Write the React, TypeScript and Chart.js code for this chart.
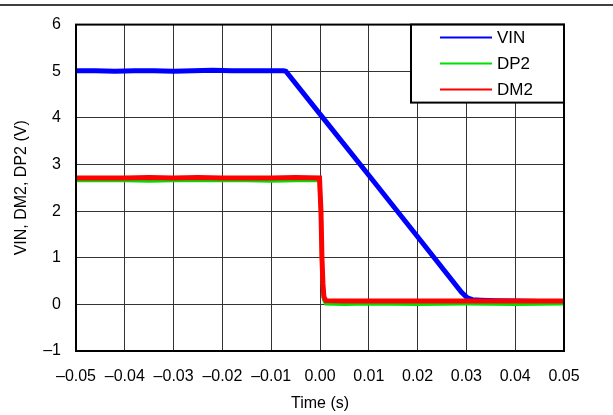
import { useEffect, useRef } from "react";
import { Chart, registerables } from "chart.js";

Chart.register(...registerables);

// ---- Data ----
const seriesLabels = ["VIN", "DP2", "DM2"];
const seriesColors = ["#0000ff", "#00e000", "#ff0000"];

const vinTime = [
  -0.05, -0.046, -0.042, -0.038, -0.034, -0.03, -0.026, -0.022, -0.018, -0.014, -0.01, -0.0075,
  -0.007, 0.0, 0.01, 0.02, 0.029, 0.0302, 0.0312, 0.033, 0.036, 0.04, 0.045, 0.05,
];
const vinValues = [
  5.01, 5.01, 5.0, 5.01, 5.01, 5.0, 5.01, 5.02, 5.01, 5.01, 5.01, 5.01,
  5.0, 4.08, 2.77, 1.45, 0.26, 0.14, 0.1, 0.09, 0.08, 0.07, 0.06, 0.06,
];

const dp2Time = [
  -0.05, -0.045, -0.04, -0.035, -0.03, -0.025, -0.02, -0.015, -0.01, -0.005, -0.0001,
  0.0002, 0.0004, 0.0006, 0.0008, 0.0012, 0.005, 0.01, 0.02, 0.03, 0.04, 0.05,
];
const dp2Values = [
  2.66, 2.66, 2.66, 2.65, 2.66, 2.66, 2.66, 2.66, 2.65, 2.66, 2.66,
  1.9, 0.9, 0.35, 0.1, 0.02, 0.01, 0.02, 0.01, 0.02, 0.01, 0.02,
];

const dm2Time = [
  -0.05, -0.045, -0.04, -0.035, -0.03, -0.025, -0.02, -0.015, -0.01, -0.005, -0.0001,
  0.0002, 0.0004, 0.0006, 0.0008, 0.0012, 0.005, 0.01, 0.02, 0.03, 0.04, 0.05,
];
const dm2Values = [
  2.71, 2.71, 2.71, 2.72, 2.71, 2.72, 2.71, 2.71, 2.71, 2.72, 2.71,
  2.0, 1.0, 0.45, 0.16, 0.08, 0.07, 0.07, 0.07, 0.07, 0.07, 0.07,
];

const xMin = -0.05;
const xMax = 0.05;
const xStep = 0.01;
const yMin = -1;
const yMax = 6;
const yStep = 1;

const FONT = "'Liberation Sans', Arial, sans-serif";

const toPoints = (t: number[], v: number[]) => t.map((x, i) => ({ x, y: v[i] }));

const fmtMinus = (s: string) => s.replace("-", "\u2013");

const framePlugin = {
  id: "frameAndLegend",
  beforeDraw(chart: any) {
    const ctx = chart.ctx;
    ctx.save();
    ctx.strokeStyle = "#000";
    ctx.lineWidth = 1.5;
    ctx.beginPath();
    ctx.moveTo(0, 5);
    ctx.lineTo(chart.width, 5);
    ctx.stroke();
    ctx.restore();
  },
  afterDatasetsDraw(chart: any) {
    const ctx = chart.ctx;
    const a = chart.chartArea;
    ctx.save();
    // plot border
    ctx.strokeStyle = "#000";
    ctx.lineWidth = 2;
    ctx.strokeRect(a.left, a.top, a.right - a.left, a.bottom - a.top);
    // legend box
    const w = 153;
    const h = 78;
    const lx = a.right - w;
    const ly = a.top;
    ctx.fillStyle = "#fff";
    ctx.fillRect(lx, ly, w, h);
    ctx.strokeRect(lx, ly, w, h);
    ctx.font = `17px ${FONT}`;
    ctx.textBaseline = "middle";
    ctx.textAlign = "left";
    chart.data.datasets.forEach((ds: any, i: number) => {
      const y = ly + 13 + i * 26;
      ctx.strokeStyle = ds.borderColor;
      ctx.lineWidth = 2;
      ctx.beginPath();
      ctx.moveTo(lx + 29, y);
      ctx.lineTo(lx + 81, y);
      ctx.stroke();
      ctx.fillStyle = "#000";
      ctx.fillText(ds.label, lx + 86, y + 1);
    });
    ctx.restore();
  },
};

export default function App() {
  const ref = useRef<HTMLCanvasElement | null>(null);

  useEffect(() => {
    if (!ref.current) return;
    const chart = new Chart(ref.current, {
      type: "line",
      data: {
        datasets: [
          {
            label: seriesLabels[0],
            data: toPoints(vinTime, vinValues),
            borderColor: seriesColors[0],
            borderWidth: 5,
            pointRadius: 0,
            tension: 0,
            order: 3,
          },
          {
            label: seriesLabels[1],
            data: toPoints(dp2Time, dp2Values),
            borderColor: seriesColors[1],
            borderWidth: 4,
            pointRadius: 0,
            tension: 0,
            order: 2,
          },
          {
            label: seriesLabels[2],
            data: toPoints(dm2Time, dm2Values),
            borderColor: seriesColors[2],
            borderWidth: 5,
            pointRadius: 0,
            tension: 0,
            order: 1,
          },
        ],
      },
      options: {
        responsive: false,
        animation: false,
        layout: { padding: { top: 20, right: 49, left: 0, bottom: 0 } },
        plugins: { legend: { display: false }, tooltip: { enabled: false } },
        scales: {
          x: {
            type: "linear",
            min: xMin,
            max: xMax,
            afterFit: (s: any) => {
              s.height = 64;
            },
            ticks: {
              stepSize: xStep,
              color: "#000",
              padding: 16,
              maxRotation: 0,
              autoSkip: false,
              font: { family: FONT, size: 16 },
              callback: (v: any) => {
                const n = Number(v);
                if (Math.abs(n) < 1e-9) return "0.00";
                return fmtMinus(n.toFixed(2));
              },
            },
            grid: { color: "#333", lineWidth: 1, drawTicks: false },
            border: { display: false },
            title: {
              display: true,
              text: "Time (s)",
              color: "#000",
              font: { family: FONT, size: 16 },
              padding: { top: 0, bottom: 2 },
            },
          },
          y: {
            type: "linear",
            min: yMin,
            max: yMax,
            afterFit: (s: any) => {
              s.width = 76;
            },
            ticks: {
              stepSize: yStep,
              color: "#000",
              padding: 15,
              font: { family: FONT, size: 16 },
              callback: (v: any) => fmtMinus(String(Math.round(Number(v)))),
            },
            grid: { color: "#333", lineWidth: 1, drawTicks: false },
            border: { display: false },
            title: {
              display: true,
              text: "VIN, DM2, DP2 (V)",
              color: "#000",
              font: { family: FONT, size: 16 },
              padding: { top: 12, bottom: 0 },
            },
          },
        },
      },
      plugins: [framePlugin],
    });
    return () => chart.destroy();
  }, []);

  return (
    <div style={{ position: "fixed", left: 0, top: 0, width: 613, height: 415, background: "#fff" }}>
      <canvas ref={ref} width={613} height={415} style={{ display: "block" }} />
    </div>
  );
}
